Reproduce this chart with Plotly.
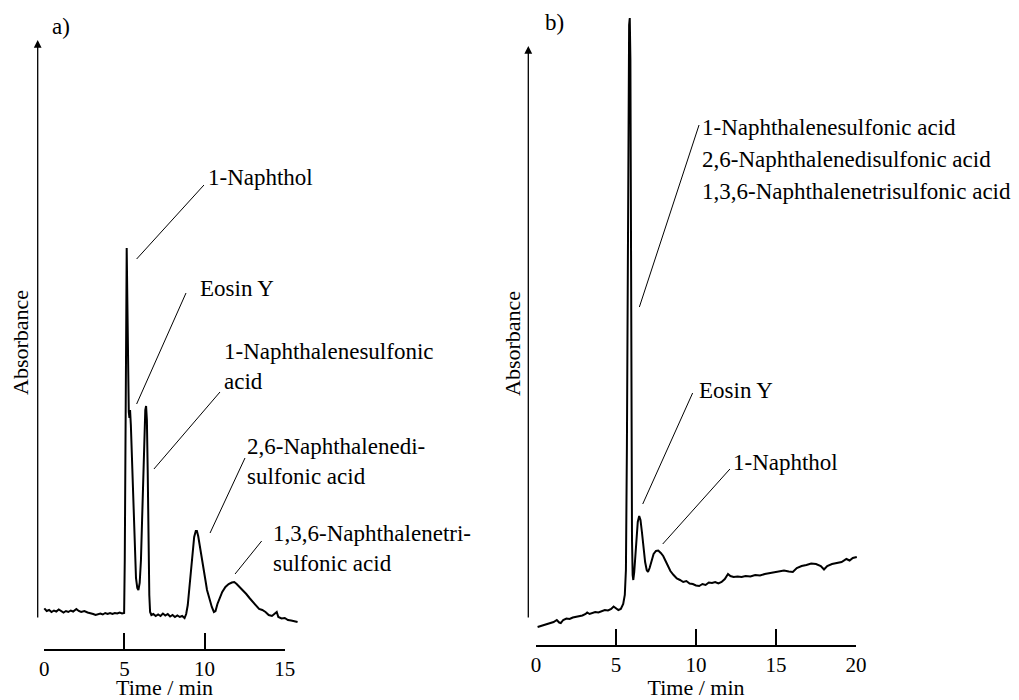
import plotly.graph_objects as go

W, H = 1019, 700
FONT = "Liberation Serif"

# ---------------- data (time in min, absorbance in arbitrary units) -------------
time_a = [0.00, 0.15, 0.30, 0.45, 0.60, 0.75, 0.90, 1.05, 1.20, 1.35, 1.50, 1.65, 1.80,
          2.00, 2.15, 2.30, 2.50, 2.70, 2.90, 3.05, 3.20, 3.35, 3.50, 3.65, 3.80, 3.95,
          4.10, 4.25, 4.40, 4.55, 4.70, 4.85, 4.98, 5.02, 5.06, 5.10, 5.14, 5.18, 5.22,
          5.27, 5.31, 5.35, 5.40, 5.47, 5.55, 5.63, 5.72, 5.80, 5.87, 5.95, 6.03, 6.10,
          6.17, 6.24, 6.30, 6.35, 6.40, 6.45, 6.50, 6.55, 6.60, 6.68, 6.80, 6.95, 7.10,
          7.25, 7.40, 7.55, 7.70, 7.85, 8.00, 8.15, 8.30, 8.45, 8.60, 8.75, 8.85, 8.95,
          9.05, 9.15, 9.25, 9.35, 9.45, 9.52, 9.60, 9.70, 9.80, 9.92, 10.05, 10.15, 10.30,
          10.45, 10.58, 10.68, 10.80, 10.95, 11.10, 11.30, 11.50, 11.70, 11.85, 12.00,
          12.20, 12.40, 12.60, 12.80, 13.00, 13.20, 13.40, 13.60, 13.80, 14.00, 14.20,
          14.35, 14.50, 14.60, 14.80, 15.00, 15.20, 15.40, 15.60, 15.80]
absorb_a = [0.037, 0.010, 0.020, 0.000, 0.015, 0.005, 0.025, 0.010, -0.005, 0.010, 0.000,
            0.015, 0.005, 0.030, 0.010, 0.000, 0.010, -0.005, -0.010, -0.020, -0.030,
            -0.020, -0.015, -0.025, -0.010, -0.020, -0.010, -0.020, -0.010, -0.015, -0.005,
            -0.015, -0.010, 0.520, 1.920, 3.220, 3.640, 3.120, 2.320, 2.000, 1.940, 2.020,
            1.870, 1.520, 1.020, 0.620, 0.340, 0.240, 0.220, 0.290, 0.520, 0.920, 1.420,
            1.820, 2.020, 2.060, 1.920, 1.420, 0.720, 0.170, 0.000, -0.030, -0.020, -0.040,
            -0.025, -0.040, -0.015, -0.035, -0.020, -0.045, -0.030, -0.050, -0.035, -0.050,
            -0.040, -0.060, -0.020, 0.070, 0.240, 0.440, 0.620, 0.750, 0.810, 0.810, 0.760,
            0.670, 0.560, 0.440, 0.320, 0.220, 0.120, 0.050, 0.000, 0.010, 0.080, 0.140,
            0.200, 0.250, 0.280, 0.295, 0.300, 0.280, 0.250, 0.210, 0.180, 0.140, 0.100,
            0.070, 0.030, 0.020, 0.000, -0.030, -0.040, -0.020, 0.000, -0.050, -0.065,
            -0.060, -0.080, -0.085, -0.090, -0.100]

time_b = [0.10, 0.30, 0.50, 0.70, 0.90, 1.10, 1.30, 1.45, 1.55, 1.70, 1.90, 2.10, 2.30,
          2.50, 2.70, 2.90, 3.10, 3.20, 3.35, 3.50, 3.70, 3.90, 4.10, 4.30, 4.50, 4.70,
          4.85, 5.00, 5.15, 5.30, 5.45, 5.55, 5.62, 5.68, 5.73, 5.78, 5.82, 5.86, 5.90,
          5.93, 5.96, 6.00, 6.04, 6.08, 6.14, 6.20, 6.28, 6.36, 6.45, 6.53, 6.62, 6.72,
          6.82, 6.92, 7.00, 7.10, 7.22, 7.35, 7.50, 7.64, 7.80, 7.95, 8.10, 8.25, 8.40,
          8.60, 8.80, 9.00, 9.20, 9.40, 9.60, 9.80, 10.00, 10.20, 10.40, 10.60, 10.80,
          11.00, 11.20, 11.40, 11.60, 11.80, 12.00, 12.15, 12.35, 12.60, 12.85, 13.10,
          13.40, 13.70, 14.00, 14.30, 14.60, 14.90, 15.20, 15.50, 15.80, 16.05, 16.30,
          16.60, 16.90, 17.20, 17.50, 17.80, 18.00, 18.20, 18.50, 18.80, 19.10, 19.40,
          19.60, 19.80, 20.05]
absorb_b = [0.000, 0.010, 0.020, 0.030, 0.035, 0.050, 0.070, 0.045, 0.040, 0.070, 0.085,
            0.080, 0.095, 0.100, 0.105, 0.115, 0.130, 0.145, 0.130, 0.140, 0.150, 0.145,
            0.160, 0.170, 0.165, 0.180, 0.205, 0.190, 0.170, 0.180, 0.230, 0.320, 0.570,
            1.770, 3.770, 5.470, 6.020, 6.090, 5.670, 4.270, 2.270, 0.870, 0.520, 0.470,
            0.550, 0.690, 0.890, 1.050, 1.110, 1.070, 0.950, 0.790, 0.650, 0.570, 0.550,
            0.590, 0.670, 0.730, 0.760, 0.765, 0.740, 0.710, 0.660, 0.610, 0.560, 0.520,
            0.485, 0.470, 0.450, 0.460, 0.435, 0.430, 0.415, 0.410, 0.430, 0.420, 0.445,
            0.440, 0.450, 0.435, 0.450, 0.480, 0.530, 0.510, 0.500, 0.505, 0.500, 0.510,
            0.505, 0.520, 0.515, 0.530, 0.540, 0.550, 0.555, 0.565, 0.555, 0.550, 0.590,
            0.610, 0.620, 0.635, 0.630, 0.610, 0.575, 0.610, 0.630, 0.640, 0.650, 0.680,
            0.665, 0.690, 0.700]

ticks_a = [0, 5, 10, 15]
ticks_b = [0, 5, 10, 15, 20]

labels_a = ["1-Naphthol", "Eosin Y", "1-Naphthalenesulfonic<br>acid",
            "2,6-Naphthalenedi-<br>sulfonic acid", "1,3,6-Naphthalenetri-<br>sulfonic acid"]
labels_b = ["1-Naphthalenesulfonic acid", "2,6-Naphthalenedisulfonic acid",
            "1,3,6-Naphthalenetrisulfonic acid", "Eosin Y", "1-Naphthol"]

# ---------------- geometry helpers ----------------
def px(x):
    return x / W

def py(y):
    return 1 - y / H

fig = go.Figure()

fig.add_trace(go.Scatter(x=time_a, y=absorb_a, xaxis="x", yaxis="y", mode="lines",
                         line=dict(color="black", width=2), showlegend=False, hoverinfo="skip"))
fig.add_trace(go.Scatter(x=time_b, y=absorb_b, xaxis="x2", yaxis="y2", mode="lines",
                         line=dict(color="black", width=2), showlegend=False, hoverinfo="skip"))
fig.add_trace(go.Scatter(x=[ticks_a[0], ticks_a[-1]], y=[None, None], xaxis="x3", yaxis="y",
                         mode="lines", showlegend=False, hoverinfo="skip"))
fig.add_trace(go.Scatter(x=[ticks_b[0], ticks_b[-1]], y=[None, None], xaxis="x4", yaxis="y2",
                         mode="lines", showlegend=False, hoverinfo="skip"))

S = 16.03
a0 = 44.3
b0 = 536.0
Sb = 16.0

ra = [-0.41, 16.0]
rb = [-0.48, 20.5]

hidden = dict(visible=False, showgrid=False, zeroline=False, automargin=False)

tickax = dict(showline=True, linecolor="black", linewidth=1.5, ticks="inside", ticklen=16,
              tickwidth=1.5, tickcolor="black", showgrid=False, zeroline=False,
              tickfont=dict(family=FONT, size=21, color="black"),
              title=dict(text="Time / min", font=dict(family=FONT, size=22, color="black"),
                         standoff=3),
              anchor="free", automargin=False)

fig.update_layout(
    width=W, height=H, margin=dict(l=0, r=0, t=0, b=0, pad=0, autoexpand=False),
    paper_bgcolor="white", plot_bgcolor="rgba(0,0,0,0)",
    xaxis=dict(domain=[px(a0 + ra[0] * S), px(a0 + ra[1] * S)], range=ra, **hidden),
    yaxis=dict(domain=[0, 1], range=[(612 - 700) / 100, 612 / 100], **hidden),
    xaxis2=dict(domain=[px(b0 + rb[0] * Sb), px(b0 + rb[1] * Sb)], range=rb, **hidden),
    yaxis2=dict(domain=[0, 1], range=[(627 - 700) / 100, 627 / 100], **hidden),
    xaxis3=dict(domain=[px(a0), px(a0 + 15 * S)], range=[0, 15], tickvals=ticks_a,
                position=py(650), **tickax),
    xaxis4=dict(domain=[px(b0), px(b0 + 20 * Sb)], range=[0, 20], tickvals=ticks_b,
                position=py(646), **tickax),
)

tf = dict(family=FONT, size=23, color="black")
af = dict(family=FONT, size=22, color="black")
ann = []
ann.append(dict(xref="paper", yref="paper", x=px(37.7), y=py(40), axref="pixel", ayref="pixel",
                ax=0, ay=579, showarrow=True, arrowhead=2, arrowsize=1.2, arrowwidth=1.3,
                arrowcolor="black", text="", standoff=0, startstandoff=0))
ann.append(dict(xref="paper", yref="paper", x=px(528.3), y=py(46), axref="pixel", ayref="pixel",
                ax=0, ay=573, showarrow=True, arrowhead=2, arrowsize=1.2, arrowwidth=1.3,
                arrowcolor="black", text="", standoff=0, startstandoff=0))
for xp in (20, 512):
    ann.append(dict(xref="paper", yref="paper", x=px(xp), y=py(343), text="Absorbance",
                    textangle=-90, showarrow=False, font=af, xanchor="center", yanchor="middle"))
ann.append(dict(xref="paper", yref="paper", x=px(61), y=py(26), text="a)", showarrow=False,
                font=tf, xanchor="center", yanchor="middle"))
ann.append(dict(xref="paper", yref="paper", x=px(554), y=py(22), text="b)", showarrow=False,
                font=tf, xanchor="center", yanchor="middle"))

pos_a = [(206, 178), (198, 288), (222, 367), (245, 461), (271, 548)]
for t, (xx, yy) in zip(labels_a, pos_a):
    ann.append(dict(xref="paper", yref="paper", x=px(xx), y=py(yy), text=t, showarrow=False,
                    font=tf, xanchor="left", yanchor="middle", align="left"))
pos_b = [(700, 127), (700, 160), (700, 192), (697, 390), (731, 462)]
for t, (xx, yy) in zip(labels_b, pos_b):
    ann.append(dict(xref="paper", yref="paper", x=px(xx), y=py(yy), text=t, showarrow=False,
                    font=tf, xanchor="left", yanchor="middle", align="left"))
fig.update_layout(annotations=ann)

leaders_a = [((5.76, 3.53), (9.96, 4.27)), ((5.76, 2.08), (8.84, 3.19)),
             ((6.84, 1.43), (10.96, 2.20)), ((10.34, 0.79), (12.52, 1.54)),
             ((11.90, 0.38), (13.56, 0.71))]
leaders_b = [((6.46, 3.20), (10.19, 5.02)), ((6.67, 1.23), (9.79, 2.34)),
             ((7.92, 0.83), (12.12, 1.58))]
shapes = []
for (p, q) in leaders_a:
    shapes.append(dict(type="line", xref="x", yref="y", x0=p[0], y0=p[1], x1=q[0], y1=q[1],
                       line=dict(color="black", width=1)))
for (p, q) in leaders_b:
    shapes.append(dict(type="line", xref="x2", yref="y2", x0=p[0], y0=p[1], x1=q[0], y1=q[1],
                       line=dict(color="black", width=1)))
fig.update_layout(shapes=shapes)

post = """
document.body.style.margin='0';
document.body.style.padding='0';
document.documentElement.style.overflow='hidden';
"""
fig.write_html("out.html", post_script=post, config={"displayModeBar": False})
